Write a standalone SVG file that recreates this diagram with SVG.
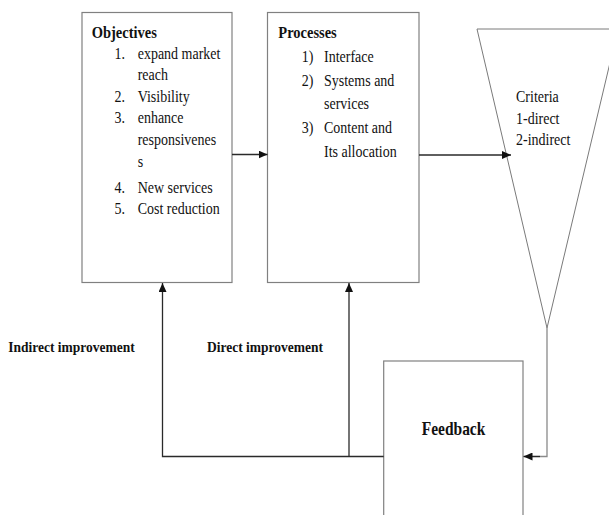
<svg xmlns="http://www.w3.org/2000/svg" width="609" height="515" viewBox="0 0 609 515">
  <style>
    .box { fill: #fff; stroke: #808080; stroke-width: 1.2; }
    .funnel { fill: #fff; stroke: #7a7a7a; stroke-width: 1; }
    .wire { fill: none; stroke: #2a2a2a; stroke-width: 1.3; }
    .wire-light { fill: none; stroke: #8a8a8a; stroke-width: 1.3; }
    text { font-family: "Liberation Serif", "Times New Roman", serif; fill: #111; }
    .body { font-size: 14px; }
    .title { font-size: 14.5px; font-weight: bold; }
    .label { font-size: 13.5px; font-weight: bold; }
    .fb { font-size: 15.5px; font-weight: bold; }
  </style>
  <defs>
    <marker id="arrow" markerUnits="userSpaceOnUse" markerWidth="10" markerHeight="8" refX="9" refY="4" orient="auto">
      <path d="M0,0 L9,4 L0,8 z" fill="#111"/>
    </marker>
  </defs>

  <rect width="609" height="515" fill="#fff"/>

  <!-- Objectives box -->
  <g id="objectives">
    <rect class="box" x="82" y="12.5" width="150" height="270"/>
    <text class="title" transform="translate(91.7 37.5) scale(1 1.15)">Objectives</text>
    <text class="body" transform="translate(114.5 58.5) scale(1 1.15)">1.</text>
    <text class="body" transform="translate(137.7 58.5) scale(1 1.15)">expand market</text>
    <text class="body" transform="translate(137.7 80) scale(1 1.15)">reach</text>
    <text class="body" transform="translate(114.5 101.5) scale(1 1.15)">2.</text>
    <text class="body" transform="translate(137.7 101.5) scale(1 1.15)">Visibility</text>
    <text class="body" transform="translate(114.5 123) scale(1 1.15)">3.</text>
    <text class="body" transform="translate(137.7 123) scale(1 1.15)">enhance</text>
    <text class="body" transform="translate(137.7 144.5) scale(1 1.15)">responsivenes</text>
    <text class="body" transform="translate(137.7 166.5) scale(1 1.15)">s</text>
    <text class="body" transform="translate(114.5 193) scale(1 1.15)">4.</text>
    <text class="body" transform="translate(137.7 193) scale(1 1.15)">New services</text>
    <text class="body" transform="translate(114.5 214) scale(1 1.15)">5.</text>
    <text class="body" transform="translate(137.7 214) scale(1 1.15)">Cost reduction</text>
  </g>

  <!-- Processes box -->
  <g id="processes">
    <rect class="box" x="267.5" y="12.5" width="151.5" height="270"/>
    <text class="title" transform="translate(278.3 37.5) scale(1 1.15)">Processes</text>
    <text class="body" transform="translate(301.7 62) scale(1 1.15)">1)</text>
    <text class="body" transform="translate(324 62) scale(1 1.15)">Interface</text>
    <text class="body" transform="translate(301.7 85.5) scale(1 1.15)">2)</text>
    <text class="body" transform="translate(324 85.5) scale(1 1.15)">Systems and</text>
    <text class="body" transform="translate(324 109) scale(1 1.15)">services</text>
    <text class="body" transform="translate(301.7 133) scale(1 1.15)">3)</text>
    <text class="body" transform="translate(324 133) scale(1 1.15)">Content and</text>
    <text class="body" transform="translate(324 157) scale(1 1.15)">Its allocation</text>
  </g>

  <!-- Criteria funnel -->
  <g id="criteria">
    <polygon class="funnel" points="477,29 618,29 547,328"/>
    <text class="body" transform="translate(516 102) scale(1 1.15)">Criteria</text>
    <text class="body" transform="translate(516 123.5) scale(1 1.15)">1-direct</text>
    <text class="body" transform="translate(516 145) scale(1 1.15)">2-indirect</text>
  </g>

  <!-- Feedback box -->
  <g id="feedback">
    <rect class="box" x="383.7" y="361" width="139.3" height="170"/>
    <text class="fb" transform="translate(421.7 435) scale(1 1.15)">Feedback</text>
  </g>

  <!-- Connectors -->
  <g id="connectors">
    <line class="wire" x1="232" y1="154.5" x2="267.5" y2="154.5" marker-end="url(#arrow)"/>
    <line class="wire" x1="419" y1="155" x2="511" y2="155" marker-end="url(#arrow)"/>
    <polyline class="wire-light" points="547,328 547,456.5 524,456.5"/>
    <line class="wire" x1="540" y1="456.5" x2="523.5" y2="456.5" marker-end="url(#arrow)"/>
    <polyline class="wire" points="383.7,456.5 162.5,456.5 162.5,283" marker-end="url(#arrow)"/>
    <line class="wire" x1="349" y1="456.5" x2="349" y2="283" marker-end="url(#arrow)"/>
  </g>

  <!-- Connector labels -->
  <g id="labels">
    <text class="label" transform="translate(8.3 352) scale(1 1.15)">Indirect improvement</text>
    <text class="label" transform="translate(207 352) scale(1 1.15)">Direct improvement</text>
  </g>
</svg>
